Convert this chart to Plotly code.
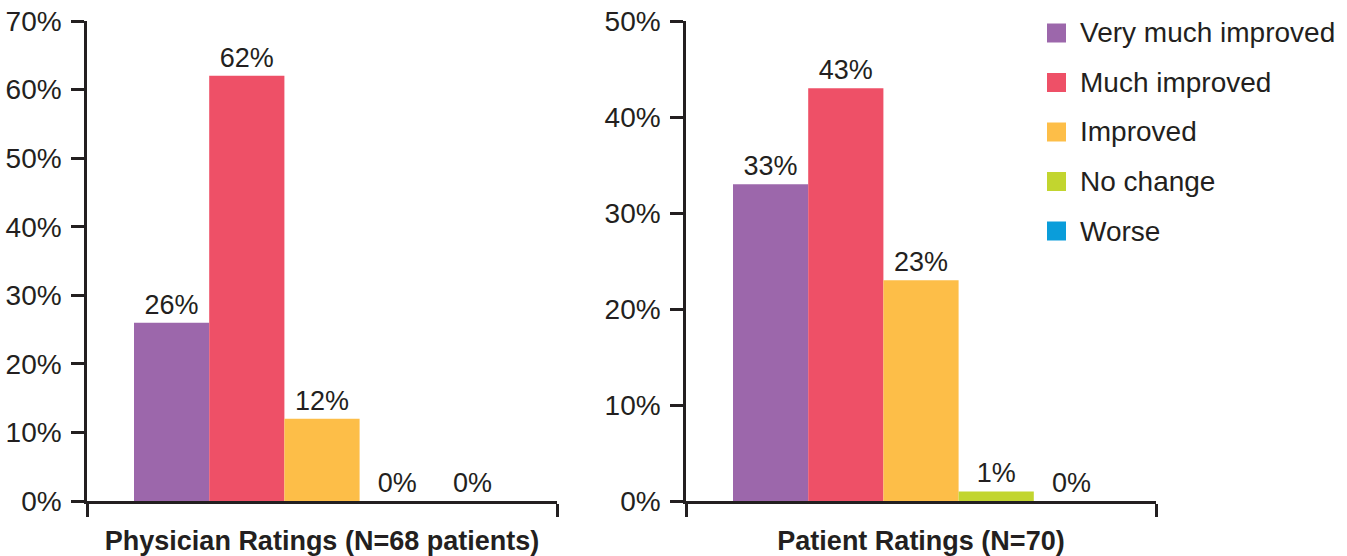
import plotly.graph_objects as go
from plotly.subplots import make_subplots

# Rating categories and their colours
categories = ["Very much improved", "Much improved", "Improved", "No change", "Worse"]
colors = ["#9C67AB", "#EE5067", "#FDBE48", "#C2D52F", "#0A9DDA"]

# Percent of patients in each category
physician_pct = [26, 62, 12, 0, 0]
patient_pct = [33, 43, 23, 1, 0]

panel_titles = ["Physician Ratings (N=68 patients)", "Patient Ratings (N=70)"]
physician_ticks = [0, 10, 20, 30, 40, 50, 60, 70]
patient_ticks = [0, 10, 20, 30, 40, 50]

W, H = 1347, 556
INK = "#231f20"
FONT = "Liberation Sans, Arial, Helvetica, sans-serif"
FS = 28

fig = make_subplots(rows=1, cols=2)

for col, values in ((1, physician_pct), (2, patient_pct)):
    for name, color, v in zip(categories, colors, values):
        fig.add_trace(
            go.Bar(
                x=[0], y=[v], name=name,
                marker=dict(color=color, line=dict(width=0)),
                text=[f"{v}%"], textposition="outside",
                textfont=dict(family=FONT, size=FS - 1, color=INK),
                cliponaxis=False, showlegend=False,
            ),
            row=1, col=col,
        )

def px_x(p):
    return p / W

def px_y(p):
    return 1 - p / H

axis_common = dict(showgrid=False, zeroline=False, showline=True,
                   linecolor=INK, linewidth=2.5, ticks="outside",
                   tickcolor=INK, tickwidth=2.5, ticklen=13, automargin=False)

for i, (ticks, title, dom) in enumerate((
        (physician_ticks, panel_titles[0], [87, 557]),
        (patient_ticks, panel_titles[1], [686, 1156]))):
    suffix = "" if i == 0 else "2"
    fig.layout["xaxis" + suffix].update(
        domain=[px_x(dom[0]), px_x(dom[1])], range=[-0.5, 0.5],
        tickvals=[-0.5, 0.5], ticktext=["", ""],
        title=dict(text=title, standoff=12,
                   font=dict(family=FONT, size=27, color=INK, weight="bold")),
        **axis_common)
    fig.layout["yaxis" + suffix].update(
        domain=[px_y(501), px_y(21)], range=[0, max(ticks)],
        tickvals=ticks, ticktext=[f"{t}%" for t in ticks],
        tickfont=dict(family=FONT, size=FS, color=INK),
        ticklabelstandoff=4,
        **axis_common)

# Legend: colour swatches with labels
for k, (name, color) in enumerate(zip(categories, colors)):
    cy = 33 + k * 49.5
    fig.add_shape(type="rect", xref="paper", yref="paper",
                  x0=px_x(1047), x1=px_x(1066), y0=px_y(cy + 9.5), y1=px_y(cy - 9.5),
                  fillcolor=color, line=dict(width=0))
    fig.add_annotation(xref="paper", yref="paper", x=px_x(1078), y=px_y(cy),
                       text=name, showarrow=False, xanchor="left", yanchor="middle",
                       font=dict(family=FONT, size=FS, color=INK))

fig.update_layout(
    width=W, height=H, barmode="group", bargap=0.2, bargroupgap=0,
    margin=dict(l=0, r=0, t=0, b=0, autoexpand=False),
    plot_bgcolor="white", paper_bgcolor="white",
    font=dict(family=FONT, size=FS, color=INK),
)

fig.write_html("out.html")
